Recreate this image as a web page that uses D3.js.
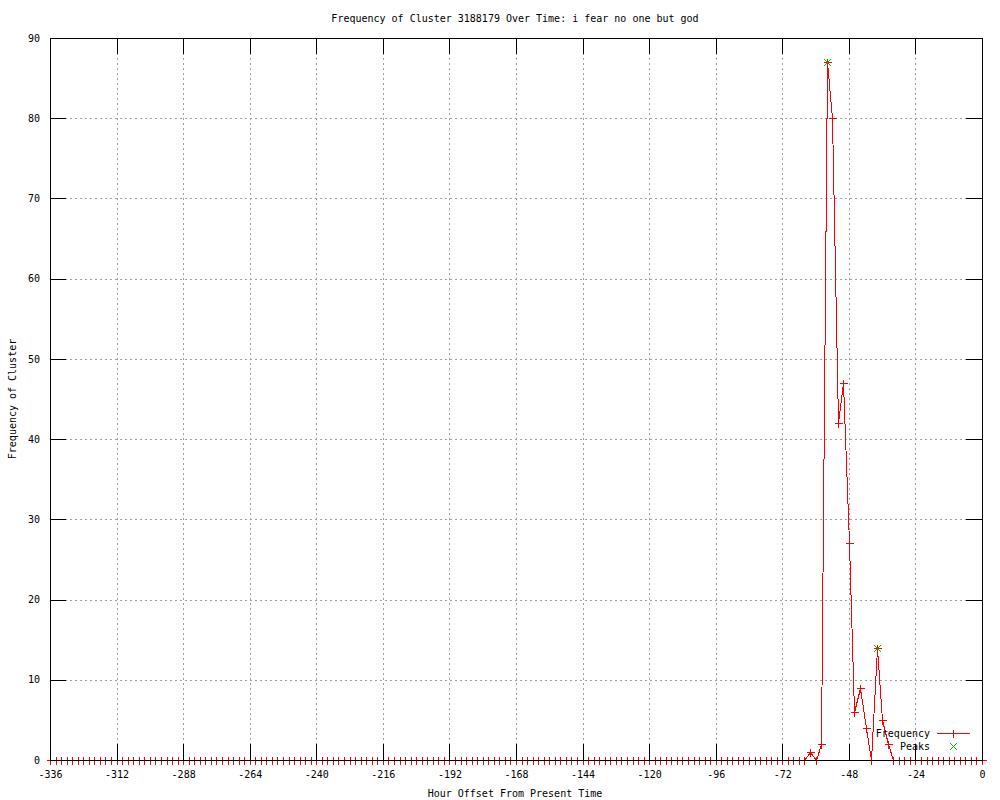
<!DOCTYPE html>
<html>
<head>
<meta charset="utf-8">
<script src="https://cdn.jsdelivr.net/npm/d3@7"></script>
<style>
  body { margin: 0; background: #fff; }
  svg { shape-rendering: crispEdges; }
  text { font-family: "DejaVu Sans Mono", monospace; font-size: 10px; fill: #000; }
</style>
</head>
<body>
<script>
// Data (one point every 2 hours).
var hours = [
  -336,-334,-332,-330,-328,-326,-324,-322,-320,-318,-316,-314,
  -312,-310,-308,-306,-304,-302,-300,-298,-296,-294,-292,-290,
  -288,-286,-284,-282,-280,-278,-276,-274,-272,-270,-268,-266,
  -264,-262,-260,-258,-256,-254,-252,-250,-248,-246,-244,-242,
  -240,-238,-236,-234,-232,-230,-228,-226,-224,-222,-220,-218,
  -216,-214,-212,-210,-208,-206,-204,-202,-200,-198,-196,-194,
  -192,-190,-188,-186,-184,-182,-180,-178,-176,-174,-172,-170,
  -168,-166,-164,-162,-160,-158,-156,-154,-152,-150,-148,-146,
  -144,-142,-140,-138,-136,-134,-132,-130,-128,-126,-124,-122,
  -120,-118,-116,-114,-112,-110,-108,-106,-104,-102,-100,-98,
  -96,-94,-92,-90,-88,-86,-84,-82,-80,-78,-76,-74,
  -72,-70,-68,-66,-64,-62,-60,-58,-56,-54,-52,-50,
  -48,-46,-44,-42,-40,-38,-36,-34,-32,-30,-28,-26,
  -24,-22,-20,-18,-16,-14,-12,-10,-8,-6,-4,-2,
  0
];
var frequency = [
  0,0,0,0,0,0,0,0,0,0,0,0,
  0,0,0,0,0,0,0,0,0,0,0,0,
  0,0,0,0,0,0,0,0,0,0,0,0,
  0,0,0,0,0,0,0,0,0,0,0,0,
  0,0,0,0,0,0,0,0,0,0,0,0,
  0,0,0,0,0,0,0,0,0,0,0,0,
  0,0,0,0,0,0,0,0,0,0,0,0,
  0,0,0,0,0,0,0,0,0,0,0,0,
  0,0,0,0,0,0,0,0,0,0,0,0,
  0,0,0,0,0,0,0,0,0,0,0,0,
  0,0,0,0,0,0,0,0,0,0,0,0,
  0,0,0,0,0,1,0,2,87,80,42,47,
  27,6,9,4,0,14,5,2,0,0,0,0,
  0,0,0,0,0,0,0,0,0,0,0,0,
  0
];
var peakHours = [-56, -38];
var peakValues = [87, 14];

var xTicks = [-336,-312,-288,-264,-240,-216,-192,-168,-144,-120,-96,-72,-48,-24,0];
var yTicks = [0,10,20,30,40,50,60,70,80,90];

var titleText = "Frequency of Cluster 3188179 Over Time: i fear no one but god";

// Plot box (note: "top" is taken by window.top, so use other names).
var plotL = 50, plotR = 982, plotT = 38, plotB = 760;
var lineRed = "#ff0000", peakGreen = "#00c000";

var svg = d3.select("body")
  .append("svg")
  .attr("width", 1000)
  .attr("height", 800);

var x = d3.scaleLinear().domain([-336, 0]).range([plotL, plotR]);
var y = d3.scaleLinear().domain([0, 90]).range([plotB, plotT]);

// Grid.
var grid = svg.append("g")
  .attr("stroke", "#a0a0a0")
  .attr("stroke-dasharray", "2,3");
grid.selectAll(".gx")
  .data(xTicks.slice(1, -1))
  .enter().append("line")
    .attr("x1", function(d){return Math.round(x(d)) + 0.5;})
    .attr("x2", function(d){return Math.round(x(d)) + 0.5;})
    .attr("y1", plotT)
    .attr("y2", plotB);
grid.selectAll(".gy")
  .data(yTicks.slice(1, -1))
  .enter().append("line")
    .attr("x1", plotL)
    .attr("x2", plotR)
    .attr("y1", function(d){return Math.round(y(d)) + 0.5;})
    .attr("y2", function(d){return Math.round(y(d)) + 0.5;});

// Frequency line.
var points = hours.map(function(h, i){return [h, frequency[i]];});
var line = d3.line()
  .x(function(d){return Math.round(x(d[0])) + 0.5;})
  .y(function(d){return Math.round(y(d[1])) + 0.5;});

svg.append("path")
  .datum(points)
  .attr("d", line)
  .attr("fill", "none")
  .attr("stroke", lineRed)
  .attr("stroke-width", 1);

function plusPath(cx, cy){
  return "M" + (cx - 4) + "," + cy + "h8M" + cx + "," + (cy - 4) + "v8";
}
function crossPath(cx, cy){
  return "M" + (cx - 3.5) + "," + (cy - 3.5) + "l7,7M" + (cx - 3.5) + "," + (cy + 3.5) + "l7,-7";
}

svg.append("g").selectAll("path")
  .data(points)
  .enter().append("path")
    .attr("d", function(d){return plusPath(Math.round(x(d[0])) + 0.5, Math.round(y(d[1])) + 0.5);})
    .attr("stroke", lineRed)
    .attr("fill", "none");

// Peaks.
svg.append("g").selectAll("path")
  .data(peakHours)
  .enter().append("path")
    .attr("d", function(d, i){return crossPath(Math.round(x(d)) + 0.5, Math.round(y(peakValues[i])) + 0.5);})
    .attr("stroke", peakGreen)
    .attr("fill", "none");

// Axes (ticks point inward, like gnuplot).
var axB = svg.append("g")
  .attr("transform", "translate(0," + plotB + ")")
  .call(d3.axisBottom(x).tickValues(xTicks).tickSize(-16).tickPadding(11));
var axT = svg.append("g")
  .attr("transform", "translate(0," + plotT + ")")
  .call(d3.axisTop(x).tickValues(xTicks).tickSize(-16).tickFormat(""));
var axL = svg.append("g")
  .attr("transform", "translate(" + plotL + ",0)")
  .call(d3.axisLeft(y).tickValues(yTicks).tickSize(-16).tickPadding(10));
var axR = svg.append("g")
  .attr("transform", "translate(" + plotR + ",0)")
  .call(d3.axisRight(y).tickValues(yTicks).tickSize(-16).tickFormat(""));

[axB, axT, axL, axR].forEach(function(a){
  a.selectAll(".domain").remove();
  a.selectAll("line").attr("stroke", "#000");
  a.selectAll("text")
    .style("font-family", "'DejaVu Sans Mono', monospace")
    .style("font-size", "10px")
    .attr("fill", "#000");
});
// plain hyphen minus, as in the reference
axB.selectAll("text").text(function(d){return String(d);});

// Border.
svg.append("rect")
  .attr("x", plotL + 0.5)
  .attr("y", plotT + 0.5)
  .attr("width", plotR - plotL)
  .attr("height", plotB - plotT)
  .attr("fill", "none")
  .attr("stroke", "#000");

// Texts.
svg.append("text")
  .attr("x", 515)
  .attr("y", 22)
  .attr("text-anchor", "middle")
  .text(titleText);

svg.append("text")
  .attr("x", 515)
  .attr("y", 797)
  .attr("text-anchor", "middle")
  .text("Hour Offset From Present Time");

svg.append("text")
  .attr("transform", "translate(16," + ((plotT + plotB) / 2) + ") rotate(-90)")
  .attr("text-anchor", "middle")
  .text("Frequency of Cluster");

// Legend.
var legend = svg.append("g");
legend.append("text")
  .attr("x", 930).attr("y", 737)
  .attr("text-anchor", "end")
  .text("Frequency");
legend.append("path")
  .attr("d", "M937,733.5H970")
  .attr("stroke", lineRed)
  .attr("fill", "none");
legend.append("path")
  .attr("d", plusPath(953.5, 733.5))
  .attr("stroke", lineRed)
  .attr("fill", "none");
legend.append("text")
  .attr("x", 930).attr("y", 750)
  .attr("text-anchor", "end")
  .text("Peaks");
legend.append("path")
  .attr("d", crossPath(953.5, 746.5))
  .attr("stroke", peakGreen)
  .attr("fill", "none");
</script>
</body>
</html>
